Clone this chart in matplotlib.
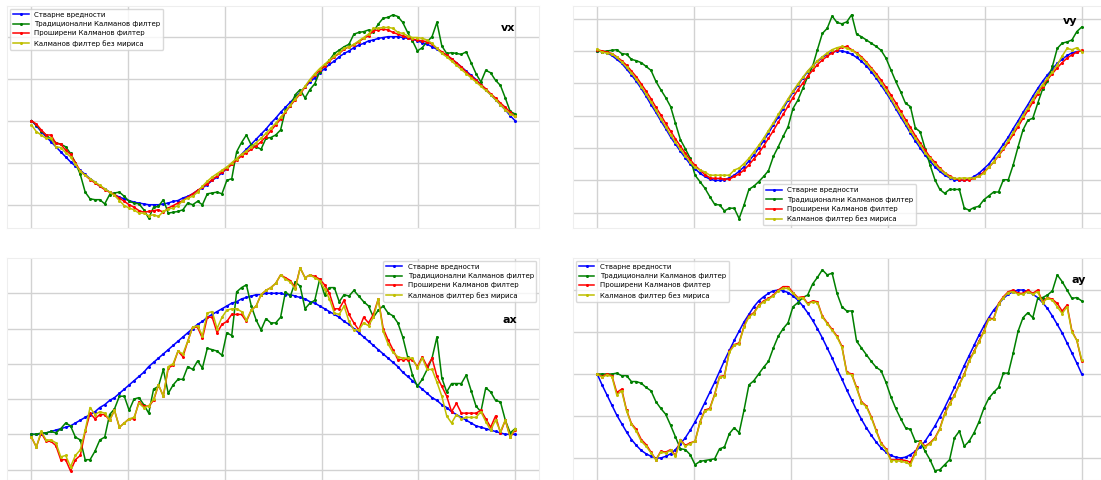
import numpy as np
import matplotlib
matplotlib.use("Agg")
import matplotlib.pyplot as plt

plt.rcParams["font.family"] = ["DejaVu Sans"]

labels = ["Стварне вредности", "Традиционални Калманов филтер",
          "Проширени Калманов филтер", "Калманов филтер без мириса"]
colors = ["#0000ff", "#008000", "#ff0000", "#bfbf00"]

# ---- vx ----
vx_true = [0.00, -0.06, -0.13, -0.19, -0.25, -0.31, -0.37, -0.43, -0.49, -0.54,
           -0.59, -0.64, -0.69, -0.73, -0.78, -0.81, -0.85, -0.88, -0.91, -0.93,
           -0.95, -0.97, -0.98, -0.99, -1.00, -1.00, -1.00, -0.99, -0.98, -0.96,
           -0.95, -0.92, -0.90, -0.87, -0.83, -0.80, -0.76, -0.71, -0.67, -0.62,
           -0.57, -0.51, -0.46, -0.40, -0.34, -0.28, -0.22, -0.16, -0.10, -0.03,
           0.03, 0.10, 0.16, 0.22, 0.28, 0.34, 0.40, 0.46, 0.51, 0.57,
           0.62, 0.67, 0.71, 0.76, 0.80, 0.83, 0.87, 0.90, 0.92, 0.95,
           0.96, 0.98, 0.99, 1.00, 1.00, 1.00, 0.99, 0.98, 0.97, 0.95,
           0.93, 0.91, 0.88, 0.85, 0.81, 0.78, 0.73, 0.69, 0.64, 0.59,
           0.54, 0.49, 0.43, 0.37, 0.31, 0.25, 0.19, 0.13, 0.06, 0.00]
vx_kf = [0.00, -0.05, -0.12, -0.17, -0.22, -0.26, -0.28, -0.31, -0.39, -0.50,
         -0.64, -0.85, -0.93, -0.94, -0.94, -0.99, -0.88, -0.86, -0.85, -0.90,
         -0.96, -0.98, -0.99, -1.06, -1.16, -1.03, -1.02, -0.94, -1.10, -1.09,
         -1.08, -1.06, -0.98, -1.00, -0.96, -1.00, -0.87, -0.86, -0.85, -0.87,
         -0.71, -0.69, -0.37, -0.26, -0.17, -0.29, -0.31, -0.34, -0.21, -0.20,
         -0.17, -0.11, 0.13, 0.17, 0.31, 0.37, 0.27, 0.37, 0.44, 0.58,
         0.66, 0.72, 0.80, 0.84, 0.88, 0.91, 1.03, 1.05, 1.06, 1.08,
         1.06, 1.15, 1.22, 1.23, 1.26, 1.24, 1.17, 1.05, 0.95, 0.83,
         0.87, 0.94, 1.00, 1.17, 0.89, 0.80, 0.81, 0.80, 0.79, 0.82,
         0.69, 0.56, 0.46, 0.60, 0.57, 0.48, 0.42, 0.27, 0.11, 0.08]
vx_ekf = [0.00, -0.04, -0.11, -0.17, -0.17, -0.27, -0.28, -0.35, -0.40, -0.50,
          -0.60, -0.65, -0.70, -0.74, -0.78, -0.82, -0.85, -0.88, -0.92, -0.96,
          -1.00, -1.03, -1.07, -1.09, -1.08, -1.07, -1.06, -1.09, -1.04, -1.01,
          -0.98, -0.95, -0.91, -0.87, -0.83, -0.79, -0.75, -0.70, -0.66, -0.61,
          -0.57, -0.52, -0.47, -0.42, -0.38, -0.34, -0.30, -0.25, -0.19, -0.12,
          -0.05, 0.02, 0.10, 0.18, 0.25, 0.32, 0.40, 0.48, 0.54, 0.60,
          0.65, 0.71, 0.76, 0.80, 0.85, 0.88, 0.90, 0.94, 0.98, 1.01,
          1.07, 1.08, 1.09, 1.08, 1.05, 1.03, 1.01, 0.99, 0.97, 0.96,
          0.95, 0.94, 0.91, 0.86, 0.82, 0.78, 0.74, 0.69, 0.64, 0.58,
          0.53, 0.48, 0.43, 0.38, 0.32, 0.27, 0.21, 0.16, 0.10, 0.05]
vx_ukf = [-0.05, -0.13, -0.17, -0.21, -0.21, -0.31, -0.32, -0.38, -0.43, -0.52,
          -0.60, -0.65, -0.69, -0.73, -0.77, -0.81, -0.85, -0.89, -0.95, -1.01,
          -1.04, -1.06, -1.10, -1.10, -1.13, -1.12, -1.14, -1.08, -1.05, -1.04,
          -1.01, -0.95, -0.92, -0.90, -0.85, -0.78, -0.72, -0.67, -0.63, -0.59,
          -0.55, -0.50, -0.45, -0.40, -0.36, -0.31, -0.26, -0.21, -0.15, -0.09,
          -0.03, 0.04, 0.11, 0.19, 0.26, 0.33, 0.41, 0.49, 0.56, 0.62,
          0.67, 0.72, 0.77, 0.81, 0.86, 0.88, 0.91, 0.95, 0.99, 1.03,
          1.10, 1.10, 1.11, 1.11, 1.10, 1.05, 1.04, 1.01, 0.99, 0.99,
          0.98, 0.96, 0.92, 0.86, 0.80, 0.76, 0.71, 0.66, 0.61, 0.56,
          0.51, 0.46, 0.41, 0.36, 0.31, 0.25, 0.19, 0.13, 0.08, 0.05]

# ---- vy ----
vy_true = [1.00, 0.99, 0.97, 0.93, 0.87, 0.81, 0.72, 0.63, 0.53, 0.42,
           0.30, 0.17, 0.05, -0.08, -0.20, -0.33, -0.44, -0.55, -0.65, -0.75,
           -0.82, -0.89, -0.94, -0.98, -1.00, -1.00, -0.99, -0.96, -0.92, -0.86,
           -0.79, -0.70, -0.61, -0.50, -0.39, -0.27, -0.14, -0.02, 0.11, 0.24,
           0.36, 0.47, 0.58, 0.68, 0.77, 0.84, 0.90, 0.95, 0.98, 1.00,
           1.00, 0.98, 0.95, 0.90, 0.84, 0.77, 0.68, 0.58, 0.47, 0.36,
           0.24, 0.11, -0.02, -0.14, -0.27, -0.39, -0.50, -0.61, -0.70, -0.79,
           -0.86, -0.92, -0.96, -0.99, -1.00, -1.00, -0.98, -0.94, -0.89, -0.82,
           -0.75, -0.65, -0.55, -0.44, -0.33, -0.20, -0.08, 0.05, 0.17, 0.30,
           0.42, 0.53, 0.63, 0.72, 0.81, 0.87, 0.93, 0.97, 0.99, 1.00]
vy_kf = [1.00, 0.99, 1.00, 1.01, 1.02, 0.96, 0.95, 0.87, 0.85, 0.82,
         0.76, 0.70, 0.53, 0.40, 0.28, 0.14, -0.12, -0.37, -0.51, -0.66,
         -0.92, -1.02, -1.12, -1.25, -1.37, -1.38, -1.47, -1.43, -1.43, -1.59,
         -1.38, -1.14, -1.09, -1.02, -0.94, -0.85, -0.63, -0.48, -0.32, -0.17,
         0.11, 0.24, 0.42, 0.60, 0.76, 1.02, 1.27, 1.35, 1.54, 1.44,
         1.42, 1.45, 1.56, 1.26, 1.22, 1.17, 1.12, 1.07, 1.01, 0.89,
         0.71, 0.53, 0.37, 0.19, 0.14, -0.19, -0.25, -0.51, -0.76, -0.99,
         -1.14, -1.20, -1.14, -1.14, -1.14, -1.43, -1.46, -1.42, -1.40, -1.30,
         -1.24, -1.18, -1.18, -0.99, -0.99, -0.76, -0.48, -0.22, -0.07, -0.04,
         0.19, 0.41, 0.53, 0.76, 1.04, 1.12, 1.14, 1.17, 1.30, 1.37]
vy_ekf = [1.02, 1.00, 0.98, 0.96, 0.91, 0.85, 0.78, 0.69, 0.60, 0.49,
          0.38, 0.26, 0.13, 0.01, -0.12, -0.24, -0.36, -0.47, -0.58, -0.68,
          -0.77, -0.84, -0.91, -0.96, -0.97, -0.97, -0.98, -0.98, -0.94, -0.90,
          -0.84, -0.76, -0.67, -0.58, -0.47, -0.35, -0.23, -0.10, 0.02, 0.15,
          0.28, 0.40, 0.50, 0.61, 0.70, 0.79, 0.86, 0.92, 0.97, 1.01,
          1.06, 1.07, 1.02, 0.97, 0.91, 0.83, 0.74, 0.65, 0.55, 0.44,
          0.32, 0.20, 0.07, -0.06, -0.18, -0.31, -0.42, -0.53, -0.64, -0.72,
          -0.81, -0.88, -0.93, -0.97, -0.99, -1.00, -0.99, -0.97, -0.93, -0.87,
          -0.80, -0.72, -0.62, -0.52, -0.41, -0.29, -0.17, -0.04, 0.08, 0.21,
          0.33, 0.45, 0.56, 0.65, 0.74, 0.82, 0.89, 0.94, 0.98, 1.01]
vy_ukf = [1.03, 0.98, 0.97, 0.95, 0.90, 0.83, 0.75, 0.66, 0.56, 0.45,
          0.33, 0.21, 0.08, -0.05, -0.17, -0.30, -0.41, -0.52, -0.62, -0.72,
          -0.80, -0.84, -0.87, -0.92, -0.92, -0.92, -0.92, -0.92, -0.84, -0.81,
          -0.74, -0.66, -0.56, -0.46, -0.35, -0.23, -0.11, 0.02, 0.14, 0.26,
          0.38, 0.49, 0.59, 0.69, 0.77, 0.85, 0.91, 0.97, 1.02, 1.05,
          1.07, 1.04, 1.01, 0.96, 0.89, 0.81, 0.72, 0.62, 0.51, 0.39,
          0.27, 0.14, 0.02, -0.11, -0.23, -0.35, -0.46, -0.57, -0.66, -0.75,
          -0.83, -0.89, -0.95, -0.97, -0.97, -0.96, -0.97, -0.96, -0.94, -0.89,
          -0.80, -0.71, -0.61, -0.50, -0.38, -0.26, -0.13, 0.00, 0.12, 0.25,
          0.37, 0.48, 0.58, 0.67, 0.79, 0.92, 1.04, 1.02, 1.05, 0.99]

# ---- ax ----
ax_true = [0.00, 0.00, 0.00, 0.01, 0.02, 0.03, 0.04, 0.05, 0.06, 0.08,
           0.10, 0.12, 0.14, 0.16, 0.19, 0.21, 0.24, 0.26, 0.29, 0.32,
           0.35, 0.38, 0.41, 0.44, 0.48, 0.51, 0.54, 0.57, 0.60, 0.63,
           0.66, 0.69, 0.72, 0.75, 0.78, 0.80, 0.83, 0.85, 0.87, 0.89,
           0.91, 0.93, 0.94, 0.96, 0.97, 0.98, 0.99, 0.99, 1.00, 1.00,
           1.00, 1.00, 0.99, 0.99, 0.98, 0.97, 0.96, 0.94, 0.93, 0.91,
           0.89, 0.87, 0.85, 0.83, 0.80, 0.78, 0.75, 0.72, 0.69, 0.66,
           0.63, 0.60, 0.57, 0.54, 0.51, 0.48, 0.44, 0.41, 0.38, 0.35,
           0.32, 0.29, 0.26, 0.24, 0.21, 0.19, 0.16, 0.14, 0.12, 0.10,
           0.08, 0.06, 0.05, 0.04, 0.03, 0.02, 0.01, 0.00, 0.00, 0.00]
ax_kf = [0.00, 0.00, 0.01, 0.01, 0.02, 0.01, 0.04, 0.08, 0.06, -0.02,
         -0.04, -0.18, -0.18, -0.12, -0.04, -0.02, 0.14, 0.18, 0.27, 0.27,
         0.17, 0.25, 0.26, 0.21, 0.15, 0.32, 0.34, 0.46, 0.29, 0.35,
         0.39, 0.39, 0.48, 0.46, 0.52, 0.47, 0.61, 0.60, 0.59, 0.56,
         0.72, 0.70, 1.01, 1.04, 1.06, 0.91, 0.81, 0.74, 0.82, 0.79,
         0.79, 0.83, 1.01, 0.98, 1.08, 1.05, 0.89, 0.93, 0.95, 1.10,
         0.99, 1.04, 1.04, 0.94, 0.99, 0.98, 1.02, 0.98, 0.94, 0.91,
         0.83, 0.88, 0.91, 0.86, 0.84, 0.79, 0.69, 0.55, 0.42, 0.34,
         0.39, 0.46, 0.54, 0.69, 0.40, 0.30, 0.36, 0.36, 0.36, 0.42,
         0.31, 0.20, 0.16, 0.33, 0.30, 0.24, 0.23, 0.10, 0.01, 0.04]
ax_ekf = [-0.02, -0.09, 0.01, -0.05, -0.05, -0.08, -0.18, -0.18, -0.26, -0.18,
          -0.15, 0.02, 0.15, 0.11, 0.14, 0.14, 0.10, 0.17, 0.05, 0.08,
          0.11, 0.11, 0.23, 0.20, 0.20, 0.24, 0.35, 0.27, 0.47, 0.49,
          0.59, 0.55, 0.66, 0.76, 0.76, 0.68, 0.83, 0.83, 0.72, 0.78,
          0.80, 0.85, 0.85, 0.85, 0.80, 0.88, 0.91, 0.99, 1.02, 1.04,
          1.07, 1.13, 1.11, 1.09, 1.04, 1.18, 1.11, 1.13, 1.12, 1.10,
          1.06, 1.00, 0.89, 0.89, 0.95, 0.85, 0.79, 0.74, 0.83, 0.79,
          0.85, 0.96, 0.75, 0.67, 0.60, 0.53, 0.53, 0.53, 0.53, 0.48,
          0.55, 0.48, 0.54, 0.41, 0.34, 0.27, 0.16, 0.22, 0.15, 0.15,
          0.15, 0.15, 0.17, 0.11, 0.05, 0.13, 0.01, 0.10, -0.02, 0.03]
ax_ukf = [-0.02, -0.09, 0.02, -0.04, -0.04, -0.06, -0.16, -0.15, -0.23, -0.15,
          -0.11, 0.03, 0.19, 0.14, 0.16, 0.15, 0.10, 0.17, 0.05, 0.08,
          0.11, 0.12, 0.22, 0.19, 0.20, 0.25, 0.35, 0.27, 0.48, 0.50,
          0.59, 0.57, 0.66, 0.76, 0.77, 0.70, 0.86, 0.87, 0.75, 0.83,
          0.88, 0.89, 0.89, 0.87, 0.81, 0.88, 0.91, 0.99, 1.02, 1.04,
          1.07, 1.13, 1.10, 1.08, 1.03, 1.18, 1.11, 1.13, 1.11, 1.09,
          1.03, 0.96, 0.86, 0.85, 0.91, 0.80, 0.74, 0.74, 0.79, 0.77,
          0.83, 0.96, 0.73, 0.64, 0.58, 0.55, 0.54, 0.54, 0.54, 0.47,
          0.54, 0.46, 0.46, 0.37, 0.27, 0.13, 0.08, 0.14, 0.11, 0.12,
          0.12, 0.12, 0.16, 0.09, 0.03, 0.10, 0.02, 0.10, -0.02, 0.04]

# ---- ay ----
ay_true = [0.00, -0.13, -0.25, -0.37, -0.49, -0.59, -0.69, -0.78, -0.85, -0.91,
           -0.95, -0.98, -1.00, -1.00, -0.98, -0.95, -0.90, -0.83, -0.76, -0.67,
           -0.57, -0.46, -0.34, -0.22, -0.10, 0.03, 0.16, 0.28, 0.40, 0.51,
           0.62, 0.71, 0.80, 0.87, 0.92, 0.96, 0.99, 1.00, 0.99, 0.97,
           0.93, 0.88, 0.81, 0.73, 0.64, 0.54, 0.43, 0.31, 0.19, 0.06,
           -0.06, -0.19, -0.31, -0.43, -0.54, -0.64, -0.73, -0.81, -0.88, -0.93,
           -0.97, -0.99, -1.00, -0.99, -0.96, -0.92, -0.87, -0.80, -0.71, -0.62,
           -0.51, -0.40, -0.28, -0.16, -0.03, 0.10, 0.22, 0.34, 0.46, 0.57,
           0.67, 0.76, 0.83, 0.90, 0.95, 0.98, 1.00, 1.00, 0.98, 0.95,
           0.91, 0.85, 0.78, 0.69, 0.59, 0.49, 0.37, 0.25, 0.13, 0.00]
ay_kf = [0.00, 0.00, 0.00, 0.00, 0.01, -0.02, -0.02, -0.09, -0.09, -0.11,
         -0.16, -0.20, -0.33, -0.41, -0.48, -0.61, -0.75, -0.89, -0.90, -0.96,
         -1.08, -1.04, -1.03, -1.02, -1.01, -0.89, -0.87, -0.71, -0.64, -0.70,
         -0.43, -0.13, -0.08, 0.00, 0.08, 0.15, 0.31, 0.45, 0.54, 0.61,
         0.80, 0.85, 0.91, 0.94, 1.07, 1.15, 1.24, 1.18, 1.20, 0.96,
         0.80, 0.75, 0.75, 0.39, 0.31, 0.23, 0.15, 0.08, 0.04, -0.10,
         -0.27, -0.41, -0.53, -0.64, -0.66, -0.80, -0.80, -0.92, -1.02, -1.15,
         -1.14, -1.08, -1.02, -0.76, -0.68, -0.86, -0.80, -0.70, -0.57, -0.41,
         -0.29, -0.22, -0.16, 0.01, 0.01, 0.25, 0.51, 0.67, 0.73, 0.67,
         0.90, 0.91, 0.94, 0.99, 1.18, 1.10, 1.00, 0.90, 0.91, 0.87]
ay_ekf = [0.00, -0.03, 0.00, -0.02, -0.22, -0.18, -0.43, -0.59, -0.66, -0.78,
          -0.84, -0.93, -1.02, -0.92, -0.93, -0.90, -0.97, -0.78, -0.85, -0.82,
          -0.80, -0.57, -0.43, -0.41, -0.24, -0.03, -0.02, 0.27, 0.35, 0.37,
          0.57, 0.69, 0.73, 0.82, 0.87, 0.90, 0.94, 1.00, 1.04, 1.04,
          0.97, 0.91, 0.92, 0.84, 0.87, 0.86, 0.69, 0.61, 0.53, 0.45,
          0.33, 0.02, 0.00, -0.16, -0.33, -0.38, -0.51, -0.67, -0.82, -0.89,
          -1.02, -1.02, -1.02, -1.03, -1.05, -0.93, -0.80, -0.86, -0.82, -0.76,
          -0.65, -0.47, -0.35, -0.25, -0.12, 0.00, 0.16, 0.27, 0.39, 0.51,
          0.66, 0.66, 0.84, 0.92, 0.98, 1.00, 0.96, 0.96, 1.00, 0.96,
          1.00, 0.86, 0.91, 0.89, 0.84, 0.75, 0.82, 0.51, 0.40, 0.15]
ay_ukf = [0.00, -0.04, -0.01, -0.03, -0.25, -0.20, -0.44, -0.60, -0.68, -0.80,
          -0.86, -0.94, -1.02, -0.93, -0.94, -0.91, -0.98, -0.79, -0.86, -0.83,
          -0.80, -0.58, -0.44, -0.42, -0.25, -0.04, -0.03, 0.26, 0.34, 0.36,
          0.56, 0.68, 0.72, 0.81, 0.86, 0.89, 0.93, 0.99, 1.02, 1.02,
          0.96, 0.90, 0.91, 0.83, 0.86, 0.85, 0.68, 0.60, 0.52, 0.44,
          0.32, 0.01, -0.01, -0.17, -0.34, -0.39, -0.52, -0.68, -0.83, -0.90,
          -1.03, -1.03, -1.04, -1.05, -1.08, -0.95, -0.81, -0.87, -0.83, -0.77,
          -0.66, -0.48, -0.36, -0.26, -0.13, -0.01, 0.15, 0.26, 0.38, 0.50,
          0.65, 0.65, 0.83, 0.91, 0.97, 0.98, 0.95, 0.95, 0.98, 0.95,
          0.98, 0.85, 0.90, 0.88, 0.80, 0.72, 0.80, 0.50, 0.40, 0.17]

# panel layout: rect in figure fraction, y-limits, grid step, legend and tag placement
panels = [
    dict(tag="vx", data=[vx_true, vx_kf, vx_ekf, vx_ukf],
         rect=[0.0066, 0.525, 0.4832, 0.4625], ylim=(-1.277, 1.365),
         ticks=(-1.0, 1.0, 0.5), loc="upper left", tagpos=(0.941, 0.901)),
    dict(tag="vy", data=[vy_true, vy_kf, vy_ekf, vy_ukf],
         rect=[0.5204, 0.525, 0.4841, 0.4625], ylim=(-1.736, 1.695),
         ticks=(-1.5, 1.5, 0.5), loc="lower center", tagpos=(0.932, 0.934)),
    dict(tag="ax", data=[ax_true, ax_kf, ax_ekf, ax_ukf],
         rect=[0.0066, 0.0, 0.4832, 0.4625], ylim=(-0.324, 1.250),
         ticks=(-0.25, 1.0, 0.25), loc="upper right", tagpos=(0.945, 0.721)),
    dict(tag="ay", data=[ay_true, ay_kf, ay_ekf, ay_ukf],
         rect=[0.5204, 0.0, 0.4841, 0.4625], ylim=(-1.262, 1.381),
         ticks=(-1.0, 1.0, 0.5), loc="upper left", tagpos=(0.949, 0.901)),
]

fig = plt.figure(figsize=(11.01, 4.8), dpi=100)

for p in panels:
    ax = fig.add_axes(p["rect"])
    for series, color, label in zip(p["data"], colors, labels):
        t = np.linspace(0.0, 1.0, len(series))
        ax.plot(t, series, color=color, marker="o", markersize=2.2,
                markeredgewidth=0, linewidth=1.1, label=label)
    ax.set_xlim(-0.05, 1.05)
    ax.set_ylim(*p["ylim"])
    ax.set_xticks(np.arange(0.0, 1.01, 0.2))
    lo, hi, step = p["ticks"]
    ax.set_yticks(np.arange(lo, hi + step / 2, step))
    ax.tick_params(length=0, labelbottom=False, labelleft=False)
    ax.grid(True, color="#d2d2d2", linewidth=1.0)
    ax.set_axisbelow(True)
    for s in ax.spines.values():
        s.set_color("#eeeeee")
        s.set_linewidth(0.8)
    ax.legend(loc=p["loc"], fontsize=5.0, framealpha=0.8, edgecolor="#d0d0d0",
              borderaxespad=0.4, handlelength=2.3)
    ax.text(p["tagpos"][0], p["tagpos"][1], p["tag"], transform=ax.transAxes,
            ha="center", va="center", fontsize=8, fontweight="bold")

fig.savefig("out.png", dpi=100)
